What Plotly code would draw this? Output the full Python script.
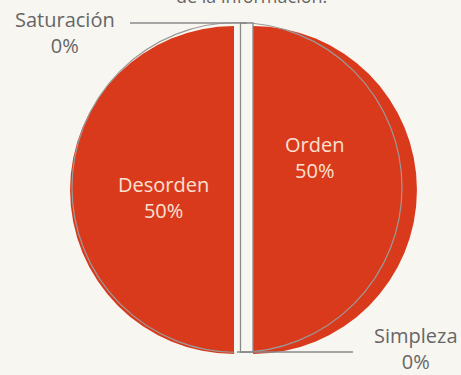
import plotly.graph_objects as go

# Data
labels = ["Orden", "Simpleza", "Desorden", "Saturación"]
values = [50, 0, 50, 0]
title_text = "de la información."

W, H = 461, 375
RED = "#da3a1c"
BG = "#f8f6f1"
GRAY = "#8a8a8a"
FONT = "Open Sans"


def px(x):
    return x / W


def py(y):
    return 1 - y / H


total = sum(values)
pct = [round(100 * v / total) for v in values]

# pie geometry (pixels)
cx, cy, r = 238, 190, 164
pull_px = {"Orden": 15, "Desorden": 4}
pulls = [pull_px.get(l, 0) / r for l in labels]
half = r * (1 + max(pulls))

fig = go.Figure()
fig.add_trace(go.Pie(
    labels=labels,
    values=values,
    sort=False,
    direction="clockwise",
    rotation=0,
    pull=pulls,
    marker=dict(colors=[RED] * len(labels), line=dict(width=0)),
    textinfo="none",
    hoverinfo="label+percent",
    showlegend=False,
    domain=dict(x=[px(cx - half), px(cx + half)], y=[py(cy + half), py(cy - half)]),
))

# outline circle of the unpulled pie, separator strip and leader lines
oc_x, oc_y, oc_r = 237, 187.5, 165
shapes = [
    dict(type="circle", xref="paper", yref="paper", layer="above",
         x0=px(oc_x - oc_r), x1=px(oc_x + oc_r), y0=py(oc_y + oc_r), y1=py(oc_y - oc_r),
         line=dict(color="#9a9a9a", width=1.2)),
    dict(type="rect", xref="paper", yref="paper", layer="above",
         x0=px(234.5), x1=px(240.5), y0=py(355), y1=py(23),
         fillcolor=BG, line=dict(width=0)),
    dict(type="rect", xref="paper", yref="paper", layer="above",
         x0=px(240.5), x1=px(253), y0=py(352), y1=py(23),
         fillcolor=BG, line=dict(color=GRAY, width=1.3)),
    dict(type="line", xref="paper", yref="paper", layer="above",
         x0=px(130), x1=px(247), y0=py(23), y1=py(23),
         line=dict(color=GRAY, width=1.5)),
    dict(type="line", xref="paper", yref="paper", layer="above",
         x0=px(237), x1=px(353), y0=py(352), y1=py(352),
         line=dict(color=GRAY, width=1.5)),
]

# label placement (pixels) and styling per category
label_pos = {
    "Orden": (314, 157, "#fbe1d3"),
    "Desorden": (163, 197, "#fbe1d3"),
    "Saturación": (65, 32, "#666666"),
    "Simpleza": (416, 348, "#666666"),
}

annotations = []
for lab, p in zip(labels, pct):
    x, y, col = label_pos[lab]
    annotations.append(dict(
        text=f"{lab}<br>{p}%", x=px(x), y=py(y), xref="paper", yref="paper",
        xanchor="center", yanchor="middle", showarrow=False, align="center",
        font=dict(family=FONT, size=20, color=col),
    ))

annotations.append(dict(
    text=title_text, x=px(252), y=py(-4), xref="paper", yref="paper",
    xanchor="center", yanchor="middle", showarrow=False,
    font=dict(family=FONT, size=18, color="#666666"),
))

fig.update_layout(
    width=W, height=H,
    margin=dict(l=0, r=0, t=0, b=0),
    paper_bgcolor=BG, plot_bgcolor=BG,
    shapes=shapes, annotations=annotations,
    font=dict(family=FONT),
)

fig.write_html("out.html")
